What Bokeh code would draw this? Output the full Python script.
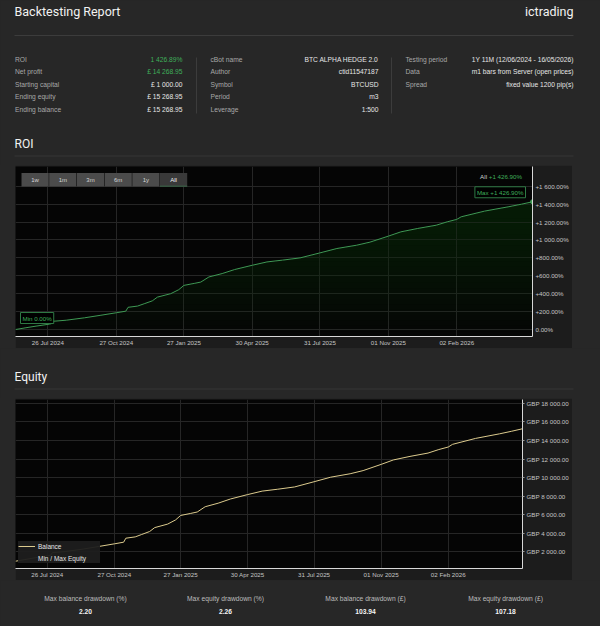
from datetime import datetime
import numpy as np
from bokeh.plotting import figure
from bokeh.layouts import column, row
from bokeh.models import (Range1d, FixedTicker, DatetimeTickFormatter, CustomJSTickFormatter,
                          BoxAnnotation, Label, Legend, LegendItem, Spacer)
from bokeh.embed import file_html
from bokeh.resources import INLINE

# ---------------- data ----------------
report_title = "Backtesting Report"
broker = "ictrading"

col1_labels = ["ROI", "Net profit", "Starting capital", "Ending equity", "Ending balance"]
col1_values = ["1 426.89%", "£ 14 268.95", "£ 1 000.00", "£ 15 268.95", "£ 15 268.95"]
col2_labels = ["cBot name", "Author", "Symbol", "Period", "Leverage"]
col2_values = ["BTC ALPHA HEDGE 2.0", "ctid11547187", "BTCUSD", "m3", "1:500"]
col3_labels = ["Testing period", "Data", "Spread"]
col3_values = ["1Y 11M (12/06/2024 - 16/05/2026)", "m1 bars from Server (open prices)", "fixed value 1200 pip(s)"]

dd_labels = ["Max balance drawdown (%)", "Max equity drawdown (%)", "Max balance drawdown (£)", "Max equity drawdown (£)"]
dd_values = ["2.20", "2.26", "103.94", "107.18"]

range_buttons = ["1w", "1m", "3m", "6m", "1y", "All"]

dates = ["2024-06-12", "2024-06-25", "2024-07-10", "2024-07-28", "2024-07-31", "2024-08-02",
         "2024-08-20", "2024-09-14", "2024-10-05", "2024-10-27", "2024-11-09", "2024-11-12",
         "2024-11-25", "2024-12-04", "2024-12-15", "2024-12-22", "2025-01-09", "2025-01-20",
         "2025-01-27", "2025-02-10", "2025-02-19", "2025-03-02", "2025-03-20", "2025-04-06",
         "2025-04-30", "2025-05-20", "2025-06-10", "2025-07-04", "2025-07-31", "2025-08-23",
         "2025-09-19", "2025-10-07", "2025-11-01", "2025-11-18", "2025-12-11", "2026-01-05",
         "2026-01-20", "2026-02-02", "2026-02-08", "2026-03-12", "2026-04-14", "2026-05-01",
         "2026-05-16"]
roi_pct = [0.0, 18, 38, 60, 66, 92, 104, 131, 158, 187, 205, 248, 262, 288, 320, 362, 400, 445,
           493, 515, 530, 587, 625, 670, 718, 755, 775, 800, 856, 905, 942, 976, 1043, 1091,
           1129, 1165, 1203, 1230, 1259, 1323, 1372, 1400, 1426.9]
balance = [1000, 1180, 1380, 1600, 1660, 1920, 2040, 2310, 2580, 2870, 3050, 3480, 3620, 3880,
           4200, 4620, 5000, 5450, 5930, 6150, 6300, 6870, 7250, 7700, 8180, 8550, 8750, 9000,
           9560, 10050, 10420, 10760, 11430, 11910, 12290, 12650, 13030, 13300, 13590, 14230,
           14720, 15000, 15268.95]

date_ticks = ["2024-07-26", "2024-10-27", "2025-01-27", "2025-04-30", "2025-07-31", "2025-11-01", "2026-02-02"]
roi_ticks = [0, 200, 400, 600, 800, 1000, 1200, 1400, 1600]
equity_ticks = [2000, 4000, 6000, 8000, 10000, 12000, 14000, 16000, 18000]

# ---------------- style ----------------
PAGE = "#272727"
BOX = "#1c1c1c"
PLOT_BG = "#050505"
GRID = "#262626"
GREEN = "#3f9a55"
GREEN_TXT = "#3fae5a"
FONT = "Liberation Sans"
TFONT = "Roboto"

x_dt = [datetime.strptime(d, "%Y-%m-%d") for d in dates]
tick_ms = [datetime.strptime(d, "%Y-%m-%d").timestamp() * 1000 for d in date_ticks]


def text_fig(h):
    f = figure(width=600, height=h, x_range=Range1d(0, 600), y_range=Range1d(h, 0),
               toolbar_location=None, output_backend="svg", min_border=0)
    f.axis.visible = False
    f.grid.visible = False
    f.outline_line_color = None
    f.background_fill_color = PAGE
    f.border_fill_color = PAGE
    return f


def put(f, x, y, t, size="6.7px", color="#a8a8a8", align="left", font=FONT, style="normal"):
    f.add_layout(Label(x=x, y=y, text=t, text_font_size=size, text_color=color, text_align=align,
                       text_baseline="middle", text_font=font, text_font_style=style))


def style_axes(f):
    for ax in (f.xaxis[0], f.yaxis[0]):
        ax.axis_line_color = "#d8d8d8"
        ax.major_tick_line_color = None
        ax.minor_tick_line_color = None
        ax.major_tick_in = 0
        ax.major_tick_out = 0
        ax.minor_tick_in = 0
        ax.minor_tick_out = 0
        ax.major_label_text_font = FONT
        ax.major_label_text_font_size = "6.2px"
        ax.major_label_text_color = "#c4c4c4"
        ax.major_label_standoff = 3
    f.xaxis.major_label_standoff = 2


# ---------------- header ----------------
hdr = text_fig(165)
put(hdr, 14, 11, report_title, size="12.5px", color="#f2f2f2", font=TFONT)
put(hdr, 573, 11, broker, size="12.5px", color="#f2f2f2", align="right", font=TFONT)
hdr.segment(x0=[14], y0=[35], x1=[573], y1=[35], line_color="#3c3c3c", line_width=1)
row_y = [58.5, 71, 83.5, 96, 108.5]
for i, (l, v) in enumerate(zip(col1_labels, col1_values)):
    put(hdr, 14.5, row_y[i], l)
    put(hdr, 182, row_y[i], v, color=GREEN_TXT if i < 2 else "#e6e6e6", align="right")
for i, (l, v) in enumerate(zip(col2_labels, col2_values)):
    put(hdr, 210, row_y[i], l)
    put(hdr, 378, row_y[i], v, color="#e6e6e6", align="right")
for i, (l, v) in enumerate(zip(col3_labels, col3_values)):
    put(hdr, 405, row_y[i], l)
    put(hdr, 573, row_y[i], v, color="#e6e6e6", align="right")
hdr.segment(x0=[196, 391], y0=[57, 57], x1=[196, 391], y1=[113, 113], line_color="#3c3c3c")
put(hdr, 14, 143, "ROI", size="12px", color="#f2f2f2", font=TFONT)
hdr.segment(x0=[14], y0=[155.5], x1=[573], y1=[155.5], line_color="#363636")

# ---------------- ROI chart ----------------
dt_fmt = DatetimeTickFormatter(milliseconds="%d %b %Y", seconds="%d %b %Y", minsec="%d %b %Y",
                               minutes="%d %b %Y", hourmin="%d %b %Y", hours="%d %b %Y",
                               days="%d %b %Y", months="%d %b %Y", years="%d %b %Y")

roi = figure(width=557, height=183, x_axis_type="datetime", y_axis_location="right",
             x_range=Range1d(x_dt[0], x_dt[-1]), y_range=Range1d(-78, 1821),
             toolbar_location=None, output_backend="svg",
             min_border_left=0, min_border_right=40, min_border_top=1, min_border_bottom=12)
roi.background_fill_color = PLOT_BG
roi.border_fill_color = BOX
roi.outline_line_color = None
roi.grid.grid_line_color = GRID
roi.xaxis.ticker = FixedTicker(ticks=tick_ms)
roi.xaxis.formatter = dt_fmt
roi.yaxis.ticker = FixedTicker(ticks=roi_ticks)
roi.ygrid.ticker = FixedTicker(ticks=roi_ticks)
roi.xgrid.ticker = FixedTicker(ticks=tick_ms)
roi.yaxis.formatter = CustomJSTickFormatter(code="""
const s = Math.abs(tick).toFixed(2).split('.');
const i = s[0].replace(/\\B(?=(\\d{3})+(?!\\d))/g, ' ');
return (tick > 0 ? '+' : '') + i + '.' + s[1] + '%';
""")
style_axes(roi)

roi_arr = np.array(roi_pct, dtype=float)
levels = np.arange(-78, 1420, 60)
for L in levels:
    roi.varea(x=x_dt, y1=np.full(len(roi_arr), L), y2=np.maximum(roi_arr, L),
              fill_color="#0d3a1c", fill_alpha=0.04)
roi.line(x_dt, roi_pct, line_color=GREEN, line_width=1)
roi.scatter([x_dt[-1]], [roi_pct[-1]], size=4, color=GREEN)

for i, b in enumerate(range_buttons):
    left = 6 + i * 27.7
    sel = b == "All"
    roi.add_layout(BoxAnnotation(left=left, right=left + 27.2, top=163.5, bottom=150,
                                 left_units="screen", right_units="screen",
                                 top_units="screen", bottom_units="screen",
                                 fill_color="#393939" if sel else "#4b4b4b", fill_alpha=1,
                                 line_color=None))
    if sel:
        roi.add_layout(BoxAnnotation(left=left, right=left + 27.2, top=150.8, bottom=150,
                                     left_units="screen", right_units="screen",
                                     top_units="screen", bottom_units="screen",
                                     fill_color="#3d7a50", fill_alpha=1, line_color=None))
    roi.add_layout(Label(x=left + 13.6, y=156.8, x_units="screen", y_units="screen", text=b,
                         text_align="center", text_baseline="middle", text_font=FONT,
                         text_font_size="6px", text_color="#f0f0f0" if sel else "#d6d6d6"))


def fmt_pct(v):
    s = f"{abs(v):,.2f}".replace(",", " ")
    return ("+" if v > 0 else "") + s + "%"


max_i = int(np.argmax(roi_arr))
min_i = int(np.argmin(roi_arr))
roi.add_layout(Label(x=506.5, y=159.7, x_units="screen", y_units="screen", text=fmt_pct(roi_pct[-1]),
                     text_align="right", text_baseline="middle", text_font=FONT,
                     text_font_size="6.2px", text_color=GREEN_TXT))
roi.add_layout(Label(x=471.5, y=159.7, x_units="screen", y_units="screen", text="All",
                     text_align="right", text_baseline="middle", text_font=FONT,
                     text_font_size="6.2px", text_color="#d0d0d0"))
roi.add_layout(Label(x=x_dt[max_i], y=roi_pct[max_i], x_offset=-7, y_offset=4,
                     text="Max " + fmt_pct(roi_pct[max_i]), text_align="right", text_baseline="bottom",
                     text_font=FONT, text_font_size="6.2px", text_color=GREEN_TXT,
                     background_fill_color="#000000", border_line_color="#2f7a45", padding=2))
roi.add_layout(Label(x=x_dt[min_i], y=roi_pct[min_i], x_offset=5, y_offset=6,
                     text="Min " + fmt_pct(roi_pct[min_i]), text_align="left", text_baseline="bottom",
                     text_font=FONT, text_font_size="6.2px", text_color=GREEN_TXT,
                     background_fill_color="#000000", border_line_color="#2f7a45", padding=2))

# ---------------- middle heading ----------------
mid = text_fig(50)
put(mid, 14, 28, "Equity", size="12px", color="#f2f2f2", font=TFONT)
mid.segment(x0=[14], y0=[40.5], x1=[573], y1=[40.5], line_color="#363636")

# ---------------- Equity chart ----------------
eq = figure(width=557, height=182, x_axis_type="datetime", y_axis_location="right",
            x_range=Range1d(x_dt[0], x_dt[-1]), y_range=Range1d(215, 18420),
            toolbar_location=None, output_backend="svg",
            min_border_left=0, min_border_right=50, min_border_top=1, min_border_bottom=12)
eq.background_fill_color = PLOT_BG
eq.border_fill_color = BOX
eq.outline_line_color = None
eq.grid.grid_line_color = GRID
eq.xaxis.ticker = FixedTicker(ticks=tick_ms)
eq.xgrid.ticker = FixedTicker(ticks=tick_ms)
eq.xaxis.formatter = dt_fmt
eq.yaxis.ticker = FixedTicker(ticks=equity_ticks)
eq.ygrid.ticker = FixedTicker(ticks=equity_ticks)
eq.yaxis.formatter = CustomJSTickFormatter(code="""
const s = tick.toFixed(2).split('.');
return 'GBP ' + s[0].replace(/\\B(?=(\\d{3})+(?!\\d))/g, ' ') + '.' + s[1];
""")
style_axes(eq)
eq.yaxis.major_tick_line_color = "#9a9a9a"
eq.yaxis.major_tick_out = 2
eq.yaxis.major_label_standoff = 2

bal_r = eq.line(x_dt, balance, line_color="#dccb8e", line_width=1)
mm_r = eq.line(x=[], y=[], line_color="#5a5a5a", line_width=1.2)
legend = Legend(items=[LegendItem(label="Balance", renderers=[bal_r]),
                       LegendItem(label="Min / Max Equity", renderers=[mm_r])],
                location=(3, 5), orientation="vertical")
legend.background_fill_color = "#1e1e1e"
legend.background_fill_alpha = 0.95
legend.border_line_color = None
legend.label_text_font = FONT
legend.label_text_font_size = "6.5px"
legend.label_text_color = "#e6e6e6"
legend.glyph_width = 17
legend.glyph_height = 10
legend.label_height = 10
legend.label_width = 62
legend.label_standoff = 3
legend.spacing = 2
legend.padding = 4
legend.margin = 0
eq.add_layout(legend)

# ---------------- footer ----------------
foot = text_fig(46)
for i, (l, v) in enumerate(zip(dd_labels, dd_values)):
    cx = 85 + i * 140
    put(foot, cx, 17.7, l, size="6.7px", color="#bdbdbd", align="center")
    put(foot, cx, 30.7, v, size="6.7px", color="#f4f4f4", align="center", style="bold")

layout = column(
    hdr,
    row(Spacer(width=15, height=183), roi, Spacer(width=28, height=183)),
    mid,
    row(Spacer(width=15, height=182), eq, Spacer(width=28, height=182)),
    foot,
    styles={"background-color": PAGE},
)

open("out.html", "w").write(file_html(layout, INLINE))
